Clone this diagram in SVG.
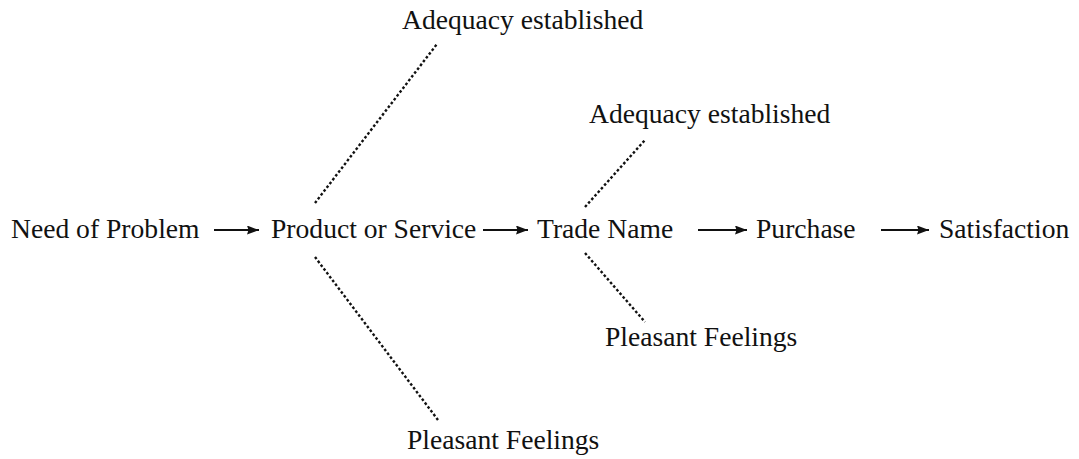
<svg xmlns="http://www.w3.org/2000/svg" width="1079" height="459" viewBox="0 0 1079 459">
  <style>
    text { font-family: "Liberation Serif", "Times New Roman", serif; font-size: 27.6px; fill: #111; }
    .flow { stroke: #111; stroke-width: 2; fill: none; }
    .dot { stroke: #111; stroke-width: 2.4; stroke-dasharray: 2.6 2.2; fill: none; }
  </style>
  <defs>
    <marker id="head" viewBox="0 0 12 9" refX="12" refY="4.5" markerWidth="12" markerHeight="9" markerUnits="userSpaceOnUse" orient="auto">
      <path d="M0,0 L12,4.5 L0,9 L1.5,4.5 Z" fill="#111"/>
    </marker>
  </defs>
  <rect width="1079" height="459" fill="#fff"/>

  <g id="connectors">
    <line class="flow" x1="214" y1="230" x2="259" y2="230" marker-end="url(#head)"/>
    <line class="flow" x1="483" y1="230" x2="528" y2="230" marker-end="url(#head)"/>
    <line class="flow" x1="698" y1="230" x2="747" y2="230" marker-end="url(#head)"/>
    <line class="flow" x1="881" y1="230" x2="929" y2="230" marker-end="url(#head)"/>
    <line class="dot" x1="315" y1="203" x2="437" y2="44"/>
    <line class="dot" x1="315" y1="257" x2="438" y2="420"/>
    <line class="dot" x1="585" y1="207" x2="645" y2="140"/>
    <line class="dot" x1="585" y1="253" x2="645" y2="322"/>
  </g>

  <g id="need"><text x="11" y="238">Need of Problem</text></g>
  <g id="product"><text x="271" y="238">Product or Service</text></g>
  <g id="trade"><text x="537" y="238">Trade Name</text></g>
  <g id="purchase"><text x="756" y="238">Purchase</text></g>
  <g id="satisfaction"><text x="939" y="238">Satisfaction</text></g>
  <g id="adequacy-product"><text x="402" y="29">Adequacy established</text></g>
  <g id="pleasant-product"><text x="407" y="449">Pleasant Feelings</text></g>
  <g id="adequacy-trade"><text x="589" y="123">Adequacy established</text></g>
  <g id="pleasant-trade"><text x="605" y="346">Pleasant Feelings</text></g>
</svg>
